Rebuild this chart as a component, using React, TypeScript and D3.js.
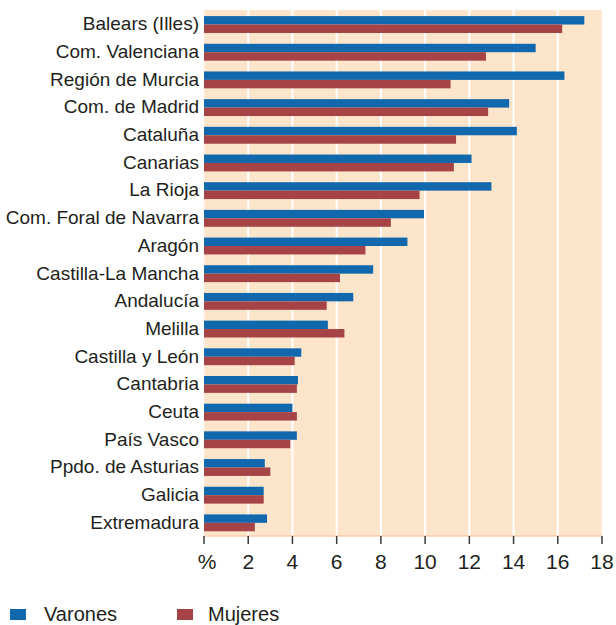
import React from "react";
import * as d3 from "d3";

const categories = [
  "Balears (Illes)", "Com. Valenciana", "Región de Murcia", "Com. de Madrid", "Cataluña",
  "Canarias", "La Rioja", "Com. Foral de Navarra", "Aragón", "Castilla-La Mancha",
  "Andalucía", "Melilla", "Castilla y León", "Cantabria", "Ceuta", "País Vasco",
  "Ppdo. de Asturias", "Galicia", "Extremadura",
];
const varones = [17.2, 15.0, 16.3, 13.8, 14.15, 12.1, 13.0, 9.95, 9.2, 7.65, 6.75, 5.6, 4.4, 4.25, 4.0, 4.2, 2.75, 2.7, 2.85];
const mujeres = [16.2, 12.75, 11.15, 12.85, 11.4, 11.3, 9.75, 8.45, 7.3, 6.15, 5.55, 6.35, 4.1, 4.2, 4.2, 3.9, 3.0, 2.7, 2.3];
const ticks = [0, 2, 4, 6, 8, 10, 12, 14, 16, 18];
const tickLabels = ["%", "2", "4", "6", "8", "10", "12", "14", "16", "18"];
const seriesNames = ["Varones", "Mujeres"];
const colors = ["#1268AC", "#A54347"];

const W = 616, H = 625;
const x0 = 204, x1 = 602, yTop = 10, yBot = 536;
const FONT = "'Liberation Sans Narrow', 'Arial Narrow', 'Liberation Sans', sans-serif";
const legendSquareX = [10, 177];
const legendTextX = [44, 208];

export default function App() {
  const x = d3.scaleLinear().domain([0, 18]).range([x0, x1]);
  const y = d3.scaleBand<string>().domain(categories).range([yTop, yBot]).padding(0);
  const bw = y.bandwidth();
  const sub = d3.scaleBand<string>().domain(seriesNames).range([bw * 0.22, bw * 0.83]).padding(0);
  const series = [varones, mujeres];
  return (
    <div style={{ position: "absolute", left: 0, top: 0 }}>
      <svg width={W} height={H} style={{ display: "block" }}>
        <rect x={x0} y={yTop} width={x1 - x0} height={yBot - yTop} fill="#FDE5CB" />
        {ticks.slice(1, -1).map((t) => (
          <line key={"g" + t} x1={x(t)} x2={x(t)} y1={yTop} y2={yBot} stroke="#FFFFFF" strokeWidth={2} />
        ))}
        <line x1={x0} x2={x0} y1={yTop} y2={yBot} stroke="#FFF6EE" strokeWidth={1} />
        <line x1={x1} x2={x1} y1={yTop} y2={yBot} stroke="#FFF6EE" strokeWidth={1} />
        <line x1={x0} x2={x1} y1={yBot} y2={yBot} stroke="#F9CFAE" strokeWidth={1.5} />
        {categories.map((c, i) => (
          <g key={c}>
            {series.map((vals, s) => (
              <rect
                key={s}
                x={x(0)}
                y={(y(c) as number) + (sub(seriesNames[s]) as number)}
                width={x(vals[i]) - x(0)}
                height={sub.bandwidth()}
                fill={colors[s]}
              />
            ))}
            <text
              x={199}
              y={(y(c) as number) + bw / 2 + 6.5}
              textAnchor="end"
              fontFamily={FONT}
              fontSize={19}
              fill="#231F20"
            >
              {c}
            </text>
          </g>
        ))}
        {ticks.map((t, i) => (
          <g key={"t" + t}>
            <line x1={x(t)} x2={x(t)} y1={yBot} y2={yBot + 8} stroke="#3A3A3A" strokeWidth={1.5} />
            <text
              x={x(t) + (i === 0 ? 3 : 0)}
              y={569}
              textAnchor="middle"
              fontFamily={FONT}
              fontSize={21}
              fill="#231F20"
            >
              {tickLabels[i]}
            </text>
          </g>
        ))}
        {seriesNames.map((n, s) => (
          <g key={n}>
            <rect x={legendSquareX[s]} y={609} width={16} height={11} fill={colors[s]} />
            <text x={legendTextX[s]} y={620.5} fontFamily={FONT} fontSize={20} fill="#231F20">
              {n}
            </text>
          </g>
        ))}
      </svg>
    </div>
  );
}
